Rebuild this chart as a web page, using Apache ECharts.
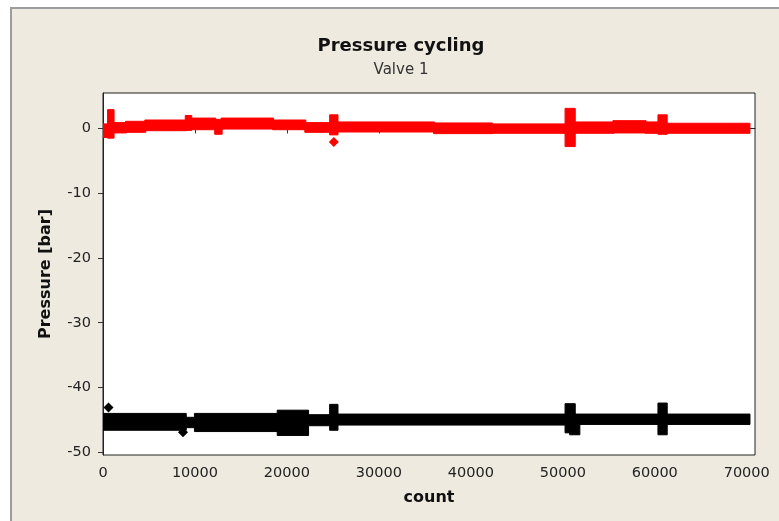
<!DOCTYPE html>
<html>
<head>
<meta charset="utf-8">
<script src="https://cdn.jsdelivr.net/npm/echarts@6/dist/echarts.min.js"></script>
<style>
  html, body { margin:0; padding:0; background:#ffffff; overflow:hidden; }
  #frame { position:absolute; left:10px; top:7px; width:820px; height:560px;
           background:#EEEAE0; border:2px solid #9c9c9c; }
  #chart { position:absolute; left:0; top:0; width:779px; height:521px; }
</style>
</head>
<body>
<div id="frame"></div>
<div id="chart"></div>
<script>
// ---- data ----
const titleText = 'Pressure cycling';
const subtitleText = 'Valve 1';
const xName = 'count';
const yName = 'Pressure [bar]';
const xTicks = [0, 10000, 20000, 30000, 40000, 50000, 60000, 70000];
const yTicks = [-50, -40, -30, -20, -10, 0];

// Red series (upper band): envelope of the dense point cloud per count range
const redStart = [0,    550,  1150, 2500, 4600, 9000, 9600,  12200, 12900, 18500, 22000, 24700, 25500, 36000, 42300, 50300, 51300, 55500, 59000, 60400, 61300];
const redEnd   = [550,  1150, 2500, 4600, 9000, 9600, 12200, 12900, 18500, 22000, 24700, 25500, 36000, 42300, 50300, 51300, 55500, 59000, 60400, 61300, 70300];
const redLow   = [-1.4, -1.5, -0.7, -0.6, -0.35,-0.3, -0.2,  -0.9,  -0.1,  -0.2,  -0.6,  -1.0,  -0.55, -0.8,  -0.75, -2.8,  -0.75, -0.7,  -0.75, -0.9,  -0.75];
const redHigh  = [0.7,  2.9,  0.9,  1.1,  1.3,  2.0,  1.6,   1.4,   1.6,   1.3,   0.9,   2.1,   1.0,   0.85,  0.7,   3.1,   1.0,   1.2,   1.0,   2.1,   0.8];
const redOutX  = [25100];
const redOutY  = [-2.1];

// Black series (lower band)
const blackStart = [0,     9000,  10000, 19000, 22300, 24700, 25500, 50300, 50800, 51300, 60400, 61300];
const blackEnd   = [9000,  10000, 19000, 22300, 24700, 25500, 50300, 51300, 51800, 60400, 61300, 70300];
const blackLow   = [-46.6, -46.2, -46.8, -47.4, -45.9, -46.6, -45.8, -47.0, -47.3, -45.7, -47.3, -45.7];
const blackHigh  = [-44.0, -44.6, -44.0, -43.5, -44.2, -42.6, -44.1, -42.5, -45.5, -44.1, -42.4, -44.1];
const blackOutX  = [600, 8700];
const blackOutY  = [-43.1, -46.9];

// ---- build ----
const zip4 = (a, b, c, d) => a.map((v, i) => [v, b[i], c[i], d[i]]);
const zip2 = (a, b) => a.map((v, i) => [v, b[i]]);

function bandRenderer(color) {
  return function (params, api) {
    const p0 = api.coord([api.value(0), api.value(3)]);
    const p1 = api.coord([api.value(1), api.value(2)]);
    return {
      type: 'rect',
      shape: { x: p0[0] - 0.5, y: p0[1], width: p1[0] - p0[0] + 1, height: p1[1] - p0[1] },
      style: { fill: color, stroke: color, lineWidth: 1 }
    };
  };
}

const FONT = 'DejaVu Sans';
const chart = echarts.init(document.getElementById('chart'), null, { renderer: 'canvas' });
chart.setOption({
  backgroundColor: 'transparent',
  animation: false,
  graphic: [
    { type: 'text', x: 401, y: 46, z: 10,
      style: { text: titleText, textAlign: 'center', textVerticalAlign: 'middle',
               font: 'bold 18px "DejaVu Sans"', fill: '#111' } },
    { type: 'text', x: 401, y: 70, z: 10,
      style: { text: subtitleText, textAlign: 'center', textVerticalAlign: 'middle',
               font: '15px "DejaVu Sans"', fill: '#333' } }
  ],
  grid: { left: 103, right: 24, top: 93, bottom: 66, show: true,
          backgroundColor: '#ffffff', borderColor: '#222', borderWidth: 1 },
  xAxis: {
    type: 'value', min: 0, max: 70900,
    name: xName, nameLocation: 'middle', nameGap: 35,
    nameTextStyle: { fontFamily: FONT, fontSize: 16, fontWeight: 'bold', color: '#111' },
    splitLine: { show: false },
    axisLine: { show: true, lineStyle: { color: '#222' } },
    axisTick: { show: true, length: 5, customValues: xTicks, lineStyle: { color: '#333' } },
    axisLabel: { customValues: xTicks, margin: 11, fontFamily: FONT, fontSize: 14.5, color: '#222',
                 formatter: v => String(v) }
  },
  yAxis: {
    type: 'value', min: -50.42, max: 5.47,
    name: yName, nameLocation: 'middle', nameGap: 49,
    nameTextStyle: { fontFamily: FONT, fontSize: 16, fontWeight: 'bold', color: '#111' },
    splitLine: { show: false },
    axisLine: { show: true, lineStyle: { color: '#222' } },
    axisTick: { show: true, length: 5, customValues: yTicks, lineStyle: { color: '#333' } },
    axisLabel: { customValues: yTicks, margin: 12, fontFamily: FONT, fontSize: 14.5, color: '#222',
                 formatter: v => String(v) }
  },
  series: [
    { type: 'custom', name: 'red', renderItem: bandRenderer('#ff0000'),
      encode: { x: [0, 1], y: [2, 3] }, clip: true,
      data: zip4(redStart, redEnd, redLow, redHigh) },
    { type: 'scatter', symbol: 'diamond', symbolSize: 10, itemStyle: { color: '#ff0000', opacity: 1 },
      data: zip2(redOutX, redOutY) },
    { type: 'custom', name: 'black', renderItem: bandRenderer('#000000'),
      encode: { x: [0, 1], y: [2, 3] }, clip: true,
      data: zip4(blackStart, blackEnd, blackLow, blackHigh) },
    { type: 'scatter', symbol: 'diamond', symbolSize: 10, itemStyle: { color: '#000000', opacity: 1 },
      data: zip2(blackOutX, blackOutY) }
  ]
});
</script>
</body>
</html>
